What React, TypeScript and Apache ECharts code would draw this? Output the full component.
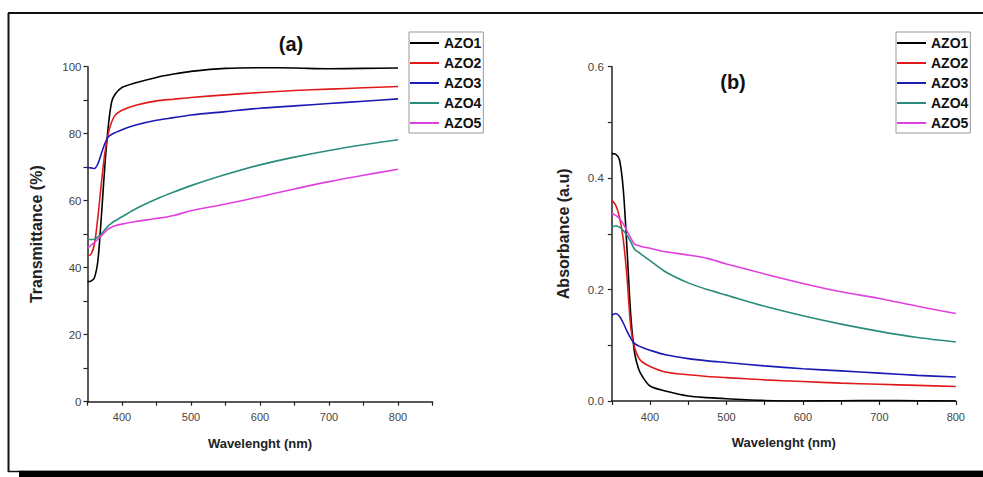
import React, { useEffect, useRef } from "react";
import * as echarts from "echarts";

const seriesNames = ["AZO1", "AZO2", "AZO3", "AZO4", "AZO5"];
const seriesColors = ["#000000", "#e01a1a", "#1a1ab4", "#2a8c7c", "#e040e0"];

const wavelengths = [350, 355, 360, 365, 370, 375, 380, 385, 390, 400, 420, 450, 475, 500, 550, 600, 650, 700, 750, 800];

// Transmittance (%)
const transAZO1 = [35.8, 36.0, 37.0, 42, 55, 70, 82, 89.5, 91.8, 93.8, 95.2, 96.8, 97.8, 98.6, 99.5, 99.7, 99.6, 99.4, 99.5, 99.6];
const transAZO2 = [43.5, 44, 47, 55, 65, 74, 80, 83.5, 85.5, 87, 88.5, 89.8, 90.3, 90.8, 91.6, 92.3, 92.9, 93.3, 93.7, 94.1];
const transAZO3 = [69.9, 69.8, 69.6, 71, 74, 77, 79, 79.8, 80.3, 81.2, 82.6, 84.0, 84.8, 85.6, 86.6, 87.6, 88.3, 89.0, 89.7, 90.4];
const transAZO4 = [48.5, 48.4, 48.5, 49.2, 50, 51.3, 52.5, 53.3, 54, 55.2, 57.6, 60.5, 62.6, 64.5, 67.8, 70.7, 73, 75, 76.7, 78.2];
const transAZO5 = [45.8, 46.7, 47.5, 48.5, 49.5, 50.6, 51.5, 52.1, 52.5, 53, 53.8, 54.7, 55.6, 57, 59, 61.2, 63.5, 65.7, 67.6, 69.4];

// Absorbance (a.u)
const absAZO1 = [0.444, 0.443, 0.433, 0.38, 0.27, 0.15, 0.085, 0.058, 0.044, 0.027, 0.018, 0.009, 0.006, 0.004, 0.001, 0.0, 0.0005, 0.001, 0.0005, 0.0];
const absAZO2 = [0.36, 0.352, 0.33, 0.29, 0.22, 0.13, 0.095, 0.078, 0.07, 0.062, 0.052, 0.047, 0.044, 0.042, 0.038, 0.035, 0.032, 0.03, 0.028, 0.026];
const absAZO3 = [0.154, 0.157, 0.152, 0.14, 0.125, 0.112, 0.103, 0.099, 0.096, 0.091, 0.083, 0.076, 0.072, 0.069, 0.063, 0.058, 0.054, 0.05, 0.046, 0.043];
const absAZO4 = [0.313, 0.314, 0.312, 0.306, 0.297, 0.285, 0.272, 0.267, 0.262, 0.252, 0.232, 0.212, 0.2, 0.19, 0.17, 0.153, 0.138, 0.125, 0.114, 0.106];
const absAZO5 = [0.337, 0.333, 0.327, 0.318, 0.305, 0.292, 0.281, 0.279, 0.277, 0.274, 0.268, 0.262, 0.256, 0.246, 0.228, 0.211, 0.196, 0.184, 0.17, 0.157];

const transSeries = [transAZO1, transAZO2, transAZO3, transAZO4, transAZO5];
const absSeries = [absAZO1, absAZO2, absAZO3, absAZO4, absAZO5];

const FONT = "'Liberation Sans', Arial, sans-serif";

function xAxisCfg(gridIndex: number, max: number) {
  return {
    type: "value",
    gridIndex,
    min: 350,
    max,
    interval: 50,
    name: "Wavelenght (nm)",
    nameLocation: "middle",
    nameGap: 35,
    nameTextStyle: { fontFamily: FONT, fontSize: 13, fontWeight: "bold", color: "#222" },
    axisLine: { show: true, lineStyle: { color: "#222", width: 1.5 } },
    axisTick: { show: true, length: 4, lineStyle: { color: "#222", width: 1.2 } },
    axisLabel: {
      fontFamily: FONT,
      fontSize: 11,
      color: "#444",
      margin: 10,
      formatter: (v: number) => (v % 100 === 0 && v <= 800 ? String(v) : ""),
    },
    splitLine: { show: false },
  };
}

export default function App() {
  const ref = useRef<HTMLDivElement>(null);
  useEffect(() => {
    document.body.style.margin = "0";
    const chart = echarts.init(ref.current!, undefined, { renderer: "svg" });
    const series: any[] = [];
    seriesNames.forEach((n, i) => {
      series.push({
        name: n,
        type: "line",
        xAxisIndex: 0,
        yAxisIndex: 0,
        smooth: 0.3,
        showSymbol: false,
        lineStyle: { color: seriesColors[i], width: 1.6 },
        itemStyle: { color: seriesColors[i] },
        data: wavelengths.map((w, k) => [w, transSeries[i][k]]),
      });
    });
    seriesNames.forEach((n, i) => {
      series.push({
        name: n,
        type: "line",
        xAxisIndex: 1,
        yAxisIndex: 1,
        smooth: 0.3,
        showSymbol: false,
        lineStyle: { color: seriesColors[i], width: 1.6 },
        itemStyle: { color: seriesColors[i] },
        data: wavelengths.map((w, k) => [w, absSeries[i][k]]),
      });
    });
    const legendCfg = (left: number) => ({
      orient: "vertical",
      left,
      top: 32,
      padding: [1, 2, 0, 1],
      itemGap: 0,
      itemWidth: 29,
      itemHeight: 2,
      icon: "rect",
      borderColor: "#999",
      borderWidth: 1,
      backgroundColor: "#fff",
      data: seriesNames,
      selectedMode: false,
      textStyle: { fontFamily: FONT, fontSize: 14, fontWeight: "bold", color: "#111", lineHeight: 20, height: 20 },
    });
    chart.setOption({
      animation: false,
      backgroundColor: "#fff",
      grid: [
        { left: 87.5, top: 66.7, width: 345, height: 335, containLabel: false },
        { left: 611.8, top: 66.7, width: 344, height: 334.3, containLabel: false },
      ],
      xAxis: [xAxisCfg(0, 850), xAxisCfg(1, 800)],
      yAxis: [
        {
          type: "value",
          gridIndex: 0,
          min: 0,
          max: 100,
          interval: 10,
          name: "Transmittance (%)",
          nameLocation: "middle",
          nameGap: 43,
          nameTextStyle: { fontFamily: FONT, fontSize: 16, fontWeight: "bold", color: "#222" },
          axisLine: { show: true, lineStyle: { color: "#222", width: 1.5 } },
          axisTick: { show: true, length: 4, lineStyle: { color: "#222", width: 1.2 } },
          axisLabel: {
            fontFamily: FONT,
            fontSize: 11.5,
            color: "#444",
            margin: 6,
            formatter: (v: number) => (v % 20 === 0 ? String(v) : ""),
          },
          splitLine: { show: false },
        },
        {
          type: "value",
          gridIndex: 1,
          min: 0,
          max: 0.6,
          interval: 0.1,
          name: "Absorbance (a.u)",
          nameLocation: "middle",
          nameGap: 40,
          nameTextStyle: { fontFamily: FONT, fontSize: 16, fontWeight: "bold", color: "#222" },
          axisLine: { show: true, lineStyle: { color: "#222", width: 1.5 } },
          axisTick: { show: true, length: 4, lineStyle: { color: "#222", width: 1.2 } },
          axisLabel: {
            fontFamily: FONT,
            fontSize: 11.5,
            color: "#444",
            margin: 8,
            formatter: (v: number) => {
              const r = Math.round(v * 10);
              return r % 2 === 0 ? (r / 10).toFixed(1) : "";
            },
          },
          splitLine: { show: false },
        },
      ],
      legend: [legendCfg(409), legendCfg(896)],
      graphic: [
        { type: "line", shape: { x1: 8, y1: 13, x2: 983, y2: 13 }, style: { stroke: "#111", lineWidth: 2 } },
        { type: "line", shape: { x1: 8.5, y1: 13, x2: 8.5, y2: 472 }, style: { stroke: "#111", lineWidth: 2 } },
        { type: "line", shape: { x1: 8, y1: 471.5, x2: 20, y2: 471.5 }, style: { stroke: "#111", lineWidth: 1.5 } },
        { type: "line", shape: { x1: 19, y1: 470.5, x2: 983, y2: 470.5 }, style: { stroke: "#999", lineWidth: 1 } },
        { type: "rect", shape: { x: 19, y: 471, width: 964, height: 6 }, style: { fill: "#000" } },
        {
          type: "text",
          x: 291,
          y: 44,
          style: { text: "(a)", fontFamily: FONT, fontSize: 20, fontWeight: "bold", fill: "#111", align: "center", verticalAlign: "middle" },
        },
        {
          type: "text",
          x: 733,
          y: 82,
          style: { text: "(b)", fontFamily: FONT, fontSize: 20, fontWeight: "bold", fill: "#111", align: "center", verticalAlign: "middle" },
        },
      ],
      series,
    });
    return () => chart.dispose();
  }, []);
  return <div ref={ref} style={{ width: 983, height: 477 }} />;
}
